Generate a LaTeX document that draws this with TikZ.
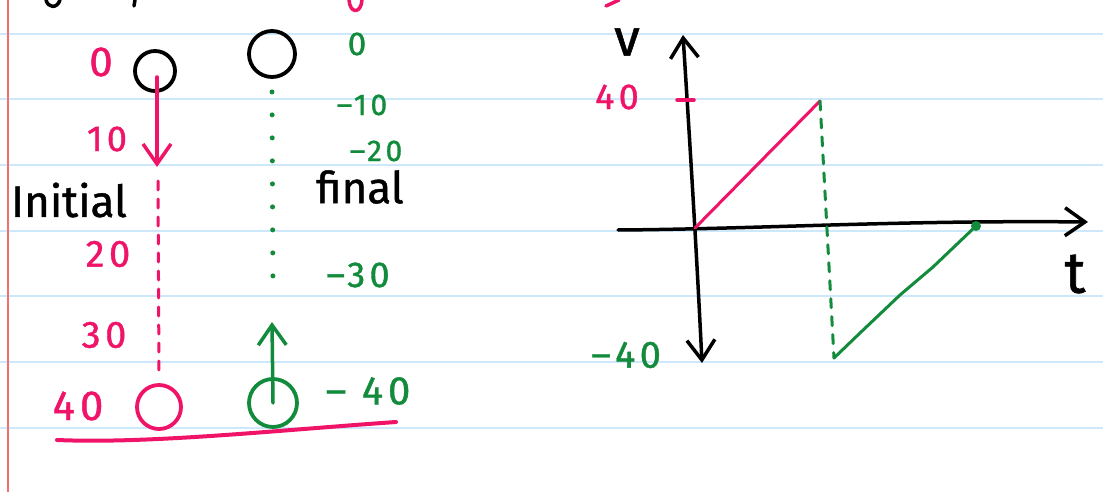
\documentclass[tikz,border=0pt]{standalone}
\usepackage{fontspec}
\setmainfont{Fira Sans}[FakeBold=1]
\newfontfamily\handsp{Fira Sans}[FakeBold=1,LetterSpace=12]
\usetikzlibrary{arrows.meta}
\definecolor{pinkink}{RGB}{240,20,105}
\definecolor{greenink}{RGB}{18,140,60}
\definecolor{ruleblue}{RGB}{205,232,250}
\definecolor{marginred}{RGB}{240,110,110}
\begin{document}
\begin{tikzpicture}[x=1pt,y=-1pt,
  ink/.style={line width=3.5pt,line cap=round,line join=round},
  lbl/.style={inner sep=0pt,font=\fontsize{#1}{#1}\selectfont},
  nums/.style={inner sep=0pt,font=\fontsize{#1}{#1}\selectfont\handsp},
  ring/.style={circle,draw,line width=3.8pt,inner sep=0pt,minimum size=#1},
  barb/.tip={Straight Barb[length=20pt,width=28pt]},
  dashink/.style={line width=3pt,line cap=round,dash pattern=on 9pt off 9pt},
  dotink/.style={line width=5pt,line cap=round,dash pattern=on 0pt off 23pt}]
\useasboundingbox (0,0) rectangle (1103,492);
\fill[white] (0,0) rectangle (1103,492);
% lined paper
\foreach \y in {34,99.5,165,230.5,296,362,428}
  \draw[ruleblue,line width=2pt] (0,\y) -- (1103,\y);
\draw[marginred,line width=1.5pt] (8,0) -- (8,492);
% fragments of writing cut at the top edge
\draw[ink,black] (46,0) .. controls (48,8) and (57,9) .. (60,0);
\draw[ink,black] (135,0) -- (134,6);
\draw[ink,pinkink] (349,0) .. controls (350,14) and (361,14) .. (362,0);
\draw[ink,pinkink] (619,0) -- (606,6);
% ---------- left: positions ----------
\node[ring=40pt,black] (c1) at (155,71) {};
\node[ring=46pt,black] (c2) at (272,54) {};
\node[ring=44pt,pinkink] (c3) at (159,407) {};
\node[ring=48pt,greenink] (c4) at (273,403) {};
\coordinate (pstart) at (157,77);
\coordinate (pa) at (157,167);
\coordinate (pd1) at (158,181);
\draw[ink,pinkink,-barb] (pstart) -- (pa);
\draw[dashink,pinkink] (pd1) -- ([yshift=6pt]c3.north);
\coordinate (gd2) at (273,296);
\draw[dotink,greenink] ([yshift=-13pt]c2.south) -- (gd2);
\coordinate (ga) at (272,322);
\draw[ink,greenink,-barb] (c4.center) -- (ga);
\coordinate (u1) at (57,440);
\coordinate (u2) at (396,422);
\draw[pinkink,line width=4pt,line cap=round] (u1) .. controls (150,444) and (280,430) .. (u2);
% labels
\node[pinkink,nums=42] (l0) at (101,62) {0};
\node[pinkink,nums=36] (l10) at (107,139) {10};
\node[black,lbl=44] (linit) at (69,200) {Initial};
\node[pinkink,nums=38] (l20) at (108,254) {20};
\node[pinkink,nums=38] (l30) at (104,335) {30};
\node[pinkink,nums=42] (l40) at (78,406) {40};
\node[greenink,nums=33] (g0) at (357,44) {0};
\node[greenink,nums=30] (g10) at (362,105) {–10};
\node[greenink,nums=30] (g20) at (376,151) {–20};
\node[black,lbl=44] (lfinal) at (360,187) {final};
\node[greenink,nums=36] (g30) at (358,275) {–30};
\node[greenink,nums=40] (g40) at (368,391) {– 40};
% ---------- right: v-t graph ----------
\coordinate (ytop) at (683,35);
\coordinate (ybot) at (702,363);
\draw[ink,black,barb-barb] (ytop) .. controls (691,160) and (697,260) .. (ybot);
\coordinate (xl) at (618,230);
\coordinate (xr) at (1088,222);
\draw[ink,black,-barb] (xl) .. controls (760,229) and (900,220) .. (xr);
\coordinate (o) at (695,228);
\coordinate (p40) at (820,101);
\coordinate (m40) at (834,358);
\coordinate (gend) at (976,226);
\draw[ink,pinkink,line width=3pt] (o) -- (p40);
\draw[dashink,greenink] (p40) -- (m40);
\draw[ink,greenink,line width=3pt] (m40) -- (860,333) -- (900,295) -- (933,267) -- (gend);
\fill[greenink] (gend) circle (5);
\draw[ink,pinkink] (677,100) -- (694,100);
\node[black,lbl=52] (lv) at (627,42) {v};
\node[pinkink,nums=36] (lp40) at (617,97) {40};
\node[greenink,nums=38] (lm40) at (626,355) {–40};
\node[black,lbl=58] (lt) at (1075,274) {t};
\end{tikzpicture}
\end{document}
